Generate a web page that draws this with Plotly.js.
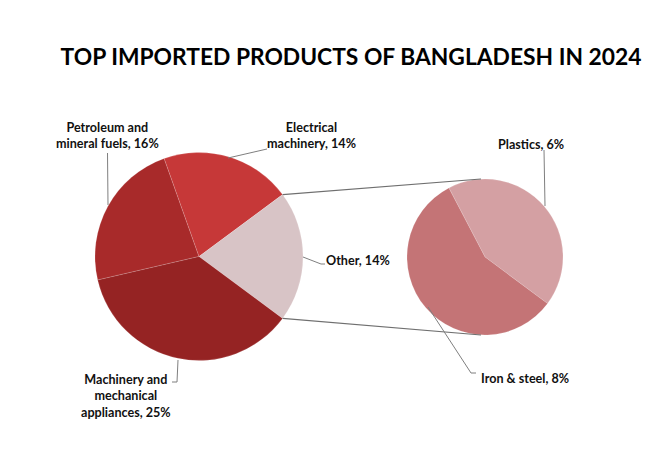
<!DOCTYPE html>
<html><head><meta charset="utf-8">
<script src="https://cdn.plot.ly/plotly-3.0.1.min.js"></script>
<style>html,body{margin:0;padding:0;background:#fff}</style>
</head><body><div id="chart" style="width:650px;height:450px"></div>
<script>
// ---- data ----
const mainLabels = ["Petroleum and<br>mineral fuels", "Electrical<br>machinery", "Other", "Machinery and<br>mechanical<br>appliances"];
const mainValues = [16, 14, 14, 25];
const mainColors = ["#a82a2a", "#c63838", "#d8c4c6", "#952323"];
const subLabels = ["Plastics", "Iron & steel"];
const subValues = [6, 8];
const subColors = ["#d4a0a3", "#c47476"];
const titleText = "TOP IMPORTED PRODUCTS OF BANGLADESH IN 2024";

// ---- geometry (pixels) ----
const W = 650, H = 450;
const main = {cx: 199, cy: 256.5, r: 104};
const sub = {cx: 485, cy: 257, r: 78};
const otherIdx = 2;
const total = mainValues.reduce((a, b) => a + b, 0);
const before = mainValues.slice(0, otherIdx).reduce((a, b) => a + b, 0);
// rotate so that "Other" slice is centred on the right (3 o'clock)
const mainRot = 90 - (before + mainValues[otherIdx] / 2) / total * 360;
const subRot = -27.6;

const px = x => x / W, py = y => 1 - y / H;
function dom(c) {
  return {x: [px(c.cx - c.r), px(c.cx + c.r)], y: [py(c.cy + c.r), py(c.cy - c.r)]};
}
function pt(c, ang) {
  const a = ang * Math.PI / 180;
  return [c.cx + c.r * Math.sin(a), c.cy - c.r * Math.cos(a)];
}
const aStart = mainRot + before / total * 360;
const aEnd = aStart + mainValues[otherIdx] / total * 360;
const pA = pt(main, aStart), pB = pt(main, aEnd);

const lineStyle = {color: "#7f7f7f", width: 1};
function seg(x0, y0, x1, y1, st) {
  return {type: "line", xref: "paper", yref: "paper", x0: px(x0), y0: py(y0), x1: px(x1), y1: py(y1), line: st || lineStyle, layer: "above"};
}
const shapes = [
  seg(pA[0], pA[1], sub.cx - 4, sub.cy - sub.r, {color: "#6f6f6f", width: 1.2}),
  seg(pB[0], pB[1], sub.cx - 4, sub.cy + sub.r, {color: "#6f6f6f", width: 1.2}),
  // leader lines
  seg(107.5, 153, 108, 205),
  seg(267, 149, 228, 158),
  seg(303, 257, 321, 264), seg(321, 264, 325, 264),
  seg(172, 382, 177, 382), seg(177, 382, 178, 360),
  seg(544, 150, 545, 206),
  seg(428, 307, 471, 373), seg(471, 373, 476, 373)
];

const lblFont = {family: "Lato, 'Open Sans', sans-serif", size: 12.6, weight: 700, color: "#111"};
function ann(text, x, y) {
  return {text: text, x: px(x), y: py(y), xref: "paper", yref: "paper", showarrow: false,
          xanchor: "center", yanchor: "middle", align: "center", font: lblFont};
}
const lab = (arr, vals, i) => arr[i] + ", " + vals[i] + "%";
const annotations = [
  ann(lab(mainLabels, mainValues, 0), 107, 135),
  ann(lab(mainLabels, mainValues, 1), 311, 135),
  ann(lab(mainLabels, mainValues, 2), 358, 260),
  ann(lab(mainLabels, mainValues, 3), 126, 396),
  ann(lab(subLabels, subValues, 0), 531, 144),
  ann(lab(subLabels, subValues, 1), 525, 378)
];

const traces = [
  {type: "pie", labels: mainLabels, values: mainValues, sort: false, direction: "clockwise",
   rotation: mainRot, domain: dom(main), textinfo: "none", hoverinfo: "label+value",
   marker: {colors: mainColors, line: {color: "rgba(255,255,255,0.25)", width: 0.6}}, showlegend: false},
  {type: "pie", labels: subLabels, values: subValues, sort: false, direction: "clockwise",
   rotation: subRot, domain: dom(sub), textinfo: "none", hoverinfo: "label+value",
   marker: {colors: subColors, line: {color: "rgba(255,255,255,0.25)", width: 0.6}}, showlegend: false}
];

const layout = {
  width: W, height: H, margin: {l: 0, r: 0, t: 0, b: 0},
  paper_bgcolor: "#fff", plot_bgcolor: "#fff", showlegend: false,
  title: {text: titleText, x: 351 / W, xref: "paper", xanchor: "center", y: py(57), yanchor: "middle",
          yref: "paper", font: {family: "Lato, sans-serif", size: 22.8, weight: 700, color: "#000"}},
  shapes: shapes, annotations: annotations
};
Plotly.newPlot("chart", traces, layout, {displayModeBar: false, staticPlot: true});
</script></body></html>
